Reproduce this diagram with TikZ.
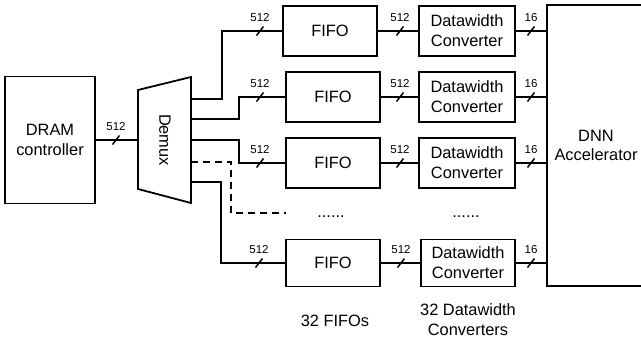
\documentclass[tikz,border=0pt]{standalone}
\usepackage{fontspec}
\setmainfont{Liberation Sans}
\begin{document}
\begin{tikzpicture}[x=1pt,y=-1pt,line width=1.8pt,
  every node/.style={font=\fontsize{16.4}{19.8}\selectfont},
  box/.style={draw,minimum width=94pt,minimum height=50pt,inner sep=0pt,align=center},
  buslbl/.style={font=\fontsize{11.5}{13}\selectfont,inner sep=0pt},
  plain/.style={inner sep=0pt,align=center},
  pics/bus/.style={code={\draw[line width=1.5pt] (-3.5,4.5) -- (3.5,-4.5);
     \node[buslbl] (-t) at (0,-13) {#1};}}]
\useasboundingbox (0,0) rectangle (641,343);
\clip (0,0) rectangle (641,343);
% DRAM
\node[box,minimum width=90pt,minimum height=127pt] (dram) at (50,140) {DRAM\\controller};
% Demux
\coordinate (dtl) at (138,90);
\coordinate (dtr) at (191,77);
\coordinate (dbr) at (191,203);
\coordinate (dbl) at (138,189);
\draw (dtl) -- (dtr) -- (dbr) -- (dbl) -- cycle;
\node[rotate=-90,plain] (demux) at (165,140) {Demux};
\coordinate (o1) at (191,99);
\coordinate (o2) at (191,119);
\coordinate (o3) at (191,140);
\coordinate (o5) at (191,162);
\coordinate (o4) at (191,182);
% FIFOs
\node[box] (f1) at (330,31) {FIFO};
\node[box] (f2) at (333,97) {FIFO};
\node[box] (f3) at (333,163) {FIFO};
\node[box,minimum height=47pt] (f4) at (333,263) {FIFO};
% Datawidth converters
\node[box,minimum width=96pt] (d1) at (467,31) {Datawidth\\Converter};
\node[box,minimum width=96pt] (d2) at (467,97) {Datawidth\\Converter};
\node[box,minimum width=96pt] (d3) at (467,163) {Datawidth\\Converter};
\node[box,minimum height=47pt] (d4) at (468,263) {Datawidth\\Converter};
% DNN
\node[box,minimum width=98pt,minimum height=281pt] (dnn) at (596,145.5) {DNN\\Accelerator};
% connectors
\draw (dram.east) -- (dram.east -| dtl);
\draw (o1) -- ++(31,0) |- (f1.west);
\draw (o2) -- ++(48,0) |- (f2.west);
\draw (o3) -- ++(48,0) |- (f3.west);
\coordinate (dend) at (286,213);
\draw[dash pattern=on 7pt off 5pt] (o5) -- ++(40,0) |- (dend);
\draw (o4) -- ++(30,0) |- (f4.west);
\foreach \i in {1,2,3,4}{
  \draw (f\i.east) -- (d\i.west);
  \draw (d\i.east) -- (d\i.east -| dnn.west);
}
% bus marks
\pic (b0) at (116,140) {bus=512};
\pic (b1) at (260,31) {bus=512};
\pic (b2) at (260,97) {bus=512};
\pic (b3) at (260,163) {bus=512};
\pic (b4) at (259,263) {bus=512};
\pic (c1) at (400,31) {bus=512};
\pic (c2) at (400,97) {bus=512};
\pic (c3) at (400,163) {bus=512};
\pic (c4) at (401,263) {bus=512};
\pic (e1) at (531,31) {bus=16};
\pic (e2) at (531,97) {bus=16};
\pic (e3) at (531,163) {bus=16};
\pic (e4) at (531,263) {bus=16};
% dots and captions
\node[plain,anchor=base] (dots1) at (331,217) {......};
\node[plain,anchor=base] (dots2) at (466,217) {......};
\node[plain] (cap1) at (335,321) {32 FIFOs};
\node[plain] (cap2) at (468,320) {32 Datawidth\\Converters};
\end{tikzpicture}
\end{document}
